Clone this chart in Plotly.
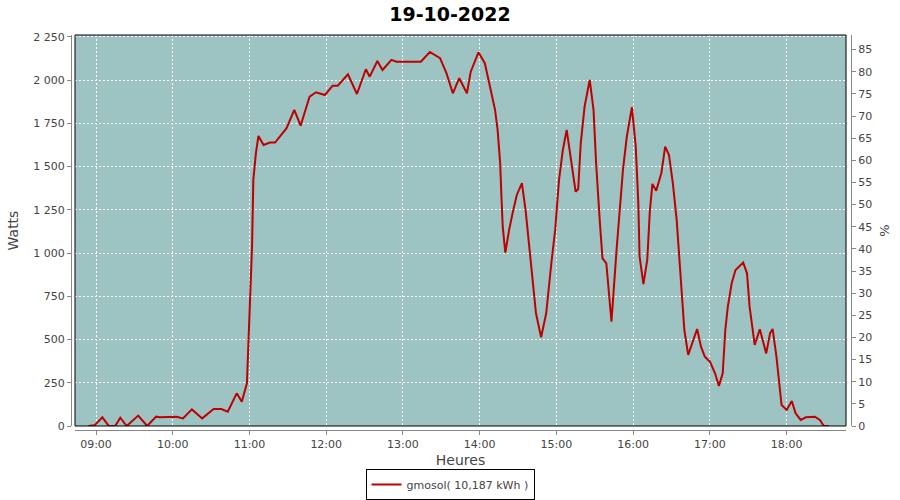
import plotly.graph_objects as go

DAY = "2022-10-19"

times = [
    "08:54", "08:59", "09:05", "09:10", "09:15", "09:19", "09:24", "09:33", "09:40", "09:47",
    "09:50", "09:55", "10:00", "10:03", "10:08", "10:15", "10:23", "10:32", "10:38", "10:43",
    "10:50", "10:54", "10:58", "10:59", "11:00", "11:02", "11:03", "11:05", "11:07", "11:11",
    "11:16", "11:20", "11:29", "11:35", "11:40", "11:47", "11:52", "11:59", "12:05", "12:09",
    "12:17", "12:24", "12:31", "12:34", "12:40", "12:44", "12:51", "12:55", "13:14", "13:21",
    "13:29", "13:34", "13:39", "13:44", "13:50", "13:53", "13:59", "14:04", "14:08", "14:12",
    "14:14", "14:16", "14:17", "14:18", "14:20", "14:23", "14:26", "14:29", "14:33", "14:36",
    "14:39", "14:42", "14:44", "14:48", "14:52", "14:56", "14:59", "15:02", "15:05", "15:08",
    "15:12", "15:15", "15:17", "15:19", "15:22", "15:26", "15:29", "15:31", "15:34", "15:36",
    "15:39", "15:41", "15:43", "15:47", "15:49", "15:52", "15:55", "15:59", "16:02", "16:04",
    "16:05", "16:08", "16:11", "16:13", "16:15", "16:18", "16:22", "16:25", "16:28", "16:31",
    "16:34", "16:36", "16:38", "16:40", "16:43", "16:47", "16:50", "16:53", "16:56", "17:00",
    "17:04", "17:07", "17:10", "17:12", "17:14", "17:17", "17:20", "17:26", "17:29", "17:31",
    "17:35", "17:39", "17:42", "17:44", "17:47", "17:49", "17:52", "17:54", "17:56", "18:00",
    "18:04", "18:07", "18:11", "18:15", "18:22", "18:26", "18:29", "18:33",
]

watts = [
    0, 5, 50, 0, 0, 48, 0, 60, 0, 54,
    50, 50, 50, 54, 44, 96, 44, 98, 98, 83,
    189, 141, 247, 440, 690, 1038, 1423, 1577, 1677, 1625,
    1639, 1639, 1722, 1828, 1737, 1905, 1930, 1914, 1968, 1968,
    2034, 1920, 2063, 2020, 2111, 2059, 2117, 2107, 2107, 2163,
    2127, 2040, 1924, 2011, 1924, 2049, 2161, 2098, 1963, 1828,
    1712, 1519, 1326, 1153, 1002, 1134, 1240, 1336, 1404, 1240,
    1018, 787, 652, 513, 652, 941, 1134, 1423, 1596, 1712,
    1519, 1355, 1370, 1635, 1847, 2001, 1828, 1519, 1172, 970,
    941, 787, 603, 1018, 1211, 1481, 1673, 1843, 1616, 1288,
    979, 820, 960, 1240, 1400, 1361, 1462, 1616, 1567, 1404,
    1192, 979, 748, 555, 411, 497, 561, 459, 401, 372,
    305, 231, 305, 555, 690, 825, 902, 945, 883, 690,
    469, 559, 469, 420, 536, 561, 401, 266, 121, 93,
    145, 73, 35, 50, 54, 35, 0, 0,
]

series_name = "gmosol( 10,187 kWh )"
hour_ticks = ["09:00", "10:00", "11:00", "12:00", "13:00", "14:00", "15:00", "16:00", "17:00", "18:00"]
watt_ticks = [0, 250, 500, 750, 1000, 1250, 1500, 1750, 2000, 2250]
watt_labels = ["0", "250", "500", "750", "1 000", "1 250", "1 500", "1 750", "2 000", "2 250"]
pct_ticks = list(range(0, 90, 5))

x = [f"{DAY} {t}" for t in times]

W, H = 900, 500
ml, mr, mt, mb = 71, 49, 35, 70
pw = W - ml - mr
ph = H - mt - mb
xdom = [(75 - 71) / pw, (846 - 71) / pw]
ydom = [(430 - 426) / ph, 1.0]

font_main = "DejaVu Sans"
gray_txt = "#444444"
axis_gray = "#888888"

fig = go.Figure()
fig.add_trace(go.Scatter(
    x=x, y=watts, mode="lines", name=series_name,
    line=dict(color="#BE0000", width=2),
    yaxis="y", xaxis="x",
))
fig.add_trace(go.Scatter(x=[], y=[], yaxis="y2", xaxis="x", showlegend=False, hoverinfo="skip"))

fig.update_layout(
    width=W, height=H,
    margin=dict(l=ml, r=mr, t=mt, b=mb, autoexpand=False),
    paper_bgcolor="white",
    plot_bgcolor="#9EC3C3",
    title=dict(text="<b>19-10-2022</b>", x=0.5, xref="container", xanchor="center",
               y=1 - 14 / H, yref="container", yanchor="middle",
               font=dict(family=font_main, size=19, color="black")),
    font=dict(family=font_main, size=11, color=gray_txt),
    showlegend=True,
    legend=dict(orientation="h", x=(450 - 71) / pw, xanchor="center",
                y=-(469 - 430) / ph, yanchor="top",
                bordercolor="black", borderwidth=1, bgcolor="white",
                font=dict(family=font_main, size=11, color=gray_txt),
                itemwidth=30),
    xaxis=dict(
        domain=xdom, anchor="free", position=0,
        type="date",
        range=[f"{DAY} 08:43:35", f"{DAY} 18:46:23"],
        tickmode="array", tickvals=[f"{DAY} {t}" for t in hour_ticks], ticktext=hour_ticks,
        showgrid=True, gridcolor="white", gridwidth=1, griddash="2px,2px",
        showline=True, linecolor=axis_gray, linewidth=1,
        ticks="outside", ticklen=4, tickcolor=axis_gray,
        tickfont=dict(family=font_main, size=11, color=gray_txt),
        title=dict(text="Heures", font=dict(family=font_main, size=14, color=gray_txt), standoff=4),
        zeroline=False,
    ),
    yaxis=dict(
        domain=ydom, anchor="free", position=0,
        range=[0, 2261],
        tickmode="array", tickvals=watt_ticks, ticktext=watt_labels,
        showgrid=True, gridcolor="white", gridwidth=1, griddash="2px,2px",
        showline=True, linecolor=axis_gray, linewidth=1,
        ticks="outside", ticklen=4, tickcolor=axis_gray,
        tickfont=dict(family=font_main, size=11, color=gray_txt),
        title=dict(text="Watts", font=dict(family=font_main, size=14, color=gray_txt), standoff=10),
        zeroline=False,
    ),
    yaxis2=dict(
        domain=ydom, anchor="free", position=1, overlaying="y", side="right",
        range=[0, 88.3],
        tickmode="array", tickvals=pct_ticks, ticktext=[str(v) for v in pct_ticks],
        showgrid=False,
        showline=True, linecolor=axis_gray, linewidth=1,
        ticks="outside", ticklen=4, tickcolor=axis_gray,
        tickfont=dict(family=font_main, size=11, color=gray_txt),
        title=dict(text="%", font=dict(family=font_main, size=13, color=gray_txt), standoff=8),
        zeroline=False,
    ),
)

fig.add_shape(type="rect", xref="x domain", yref="y domain", x0=0, x1=1, y0=0, y1=1,
              line=dict(color="black", width=1), fillcolor="rgba(0,0,0,0)", layer="above")

fig.write_html("out.html", config={"displayModeBar": False},
               post_script="document.body.style.margin='0px';")
